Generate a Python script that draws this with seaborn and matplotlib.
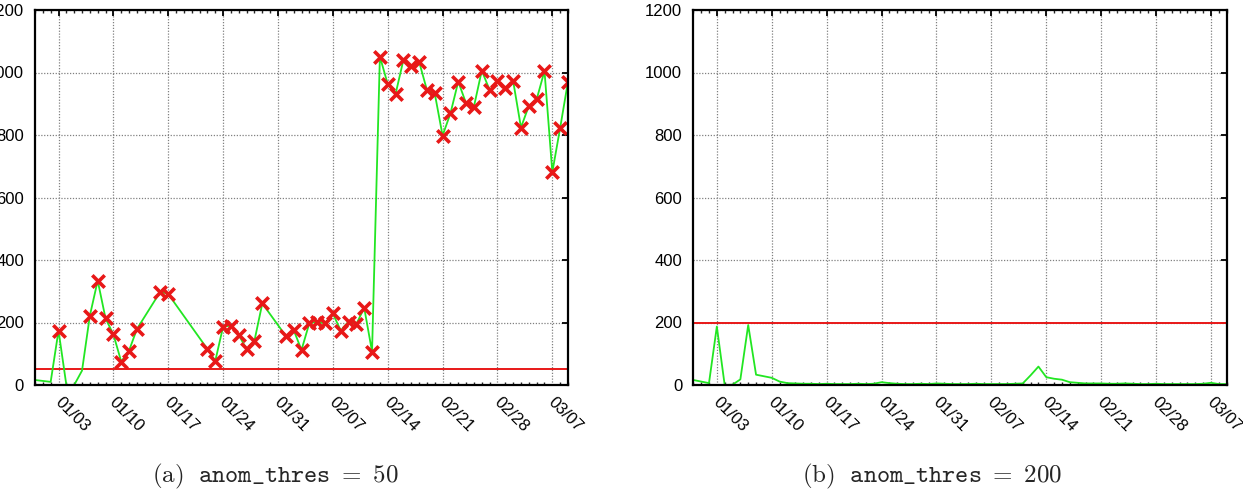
import matplotlib
matplotlib.use("Agg")
import matplotlib.pyplot as plt
import matplotlib.dates as mdates
from matplotlib.transforms import ScaledTranslation
import pandas as pd
import seaborn as sns

# ---------------- data ----------------
left_dates = [
    "2010-12-31", "2011-01-01", "2011-01-02", "2011-01-03", "2011-01-04", "2011-01-05",
    "2011-01-06", "2011-01-07", "2011-01-08", "2011-01-09", "2011-01-10", "2011-01-11",
    "2011-01-12", "2011-01-13", "2011-01-16", "2011-01-17", "2011-01-22", "2011-01-23",
    "2011-01-24", "2011-01-25", "2011-01-26", "2011-01-27", "2011-01-28", "2011-01-29",
    "2011-02-01", "2011-02-02", "2011-02-03", "2011-02-04", "2011-02-05", "2011-02-06",
    "2011-02-07", "2011-02-08", "2011-02-09", "2011-02-10", "2011-02-11", "2011-02-12",
    "2011-02-13", "2011-02-14", "2011-02-15", "2011-02-16", "2011-02-17", "2011-02-18",
    "2011-02-19", "2011-02-20", "2011-02-21", "2011-02-22", "2011-02-23", "2011-02-24",
    "2011-02-25", "2011-02-26", "2011-02-27", "2011-02-28", "2011-03-01", "2011-03-02",
    "2011-03-03", "2011-03-04", "2011-03-05", "2011-03-06", "2011-03-07", "2011-03-08",
    "2011-03-09",
]
left_values = [
    16, 13, 10, 174, 0, 0,
    46, 222, 334, 213, 162, 75,
    110, 179, 299, 291, 115, 77,
    187, 190, 160, 114, 142, 261,
    157, 176, 112, 198, 202, 197,
    229, 174, 203, 195, 247, 107,
    1051, 963, 931, 1040, 1022, 1035,
    944, 933, 798, 869, 971, 901,
    891, 1006, 944, 973, 949, 973,
    824, 893, 914, 1005, 681, 823,
    971,
]
left_threshold = 50

right_start = "2010-12-31"
right_values = [
    16, 11, 6, 187, 0, 1, 18, 192, 33, 28, 23, 11, 6, 5, 4, 4, 3, 4, 3, 3,
    3, 4, 3, 4, 9, 6, 4, 3, 3, 4, 3, 5, 4, 3, 3, 3, 4, 3, 3, 3,
    3, 4, 5, 31, 59, 25, 20, 17, 9, 7, 5, 5, 5, 4, 4, 5, 4, 3, 3, 4,
    3, 3, 3, 3, 3, 4, 7, 3, 3,
]
right_threshold = 200

xtick_dates = ["2011-01-03", "2011-01-10", "2011-01-17", "2011-01-24", "2011-01-31",
               "2011-02-07", "2011-02-14", "2011-02-21", "2011-02-28", "2011-03-07"]
xtick_labels = ["01/03", "01/10", "01/17", "01/24", "01/31",
                "02/07", "02/14", "02/21", "02/28", "03/07"]
yticks = [0, 200, 400, 600, 800, 1000, 1200]
captions = [r"$\mathrm{(a)}\ \ \mathtt{anom\_thres}\ =\ 50$",
            r"$\mathrm{(b)}\ \ \mathtt{anom\_thres}\ =\ 200$"]

# ---------------- style ----------------
sns.set_style("white")
plt.rcParams["font.family"] = ["Liberation Sans", "DejaVu Sans"]
plt.rcParams["mathtext.fontset"] = "cm"

GREEN = "#22e622"
RED = "#e81818"
TICKFS = 12

fig = plt.figure(figsize=(12.43, 4.97), dpi=100)
ax_l = fig.add_axes([35 / 1243, 1 - 385 / 497, 533 / 1243, 375 / 497])
ax_r = fig.add_axes([693.3 / 1243, 1 - 385 / 497, 533.4 / 1243, 375 / 497])

left_df = pd.DataFrame({"date": pd.to_datetime(left_dates), "value": left_values})
right_df = pd.DataFrame({
    "date": pd.date_range(right_start, periods=len(right_values), freq="D"),
    "value": right_values,
})


def style_axes(ax, thr):
    ax.axhline(thr, color=RED, lw=1.4, zorder=1.5)
    ax.set_xlim(pd.Timestamp("2010-12-31"), pd.Timestamp("2011-03-09"))
    ax.set_ylim(0, 1200)
    ax.set_xticks(pd.to_datetime(xtick_dates))
    ax.set_xticklabels(xtick_labels, fontsize=TICKFS)
    ax.xaxis.set_minor_locator(mdates.DayLocator())
    ax.set_yticks(yticks)
    ax.set_yticklabels([str(v) for v in yticks], fontsize=TICKFS)
    ax.yaxis.set_minor_locator(matplotlib.ticker.NullLocator())
    ax.grid(True, which="major", color="#808080", linestyle=(0, (1, 1.3)), lw=0.9)
    ax.set_axisbelow(True)
    for s in ax.spines.values():
        s.set_visible(True)
        s.set_color("black")
        s.set_linewidth(1.6)
        s.set_zorder(5)
    ax.tick_params(axis="both", which="major", direction="in", length=4, width=1.3,
                   top=True, right=True, labelsize=TICKFS, colors="black")
    ax.tick_params(axis="x", which="minor", direction="in", length=2.2, width=1.0,
                   top=True, bottom=True)
    ax.tick_params(axis="x", which="major", pad=11)
    ax.tick_params(axis="y", which="major", pad=8)
    offset = ScaledTranslation(-1 / 72, 0, fig.dpi_scale_trans)
    for lab in ax.get_xticklabels():
        lab.set_fontsize(TICKFS)
        lab.set_rotation(-45)
        lab.set_rotation_mode("anchor")
        lab.set_ha("left")
        lab.set_va("center")
        lab.set_transform(lab.get_transform() + offset)
    for lab in ax.get_yticklabels():
        lab.set_fontsize(TICKFS)
    ax.set_xlabel("")
    ax.set_ylabel("")


# left panel
sns.lineplot(data=left_df, x="date", y="value", ax=ax_l, color=GREEN, lw=1.3, zorder=2)
above = left_df[left_df["value"] > left_threshold]
sns.scatterplot(data=above, x="date", y="value", ax=ax_l, marker="x", s=80,
                color=RED, linewidth=2.6, zorder=3)
style_axes(ax_l, left_threshold)

# right panel
sns.lineplot(data=right_df, x="date", y="value", ax=ax_r, color=GREEN, lw=1.3, zorder=2)
above_r = right_df[right_df["value"] > right_threshold]
if len(above_r):
    sns.scatterplot(data=above_r, x="date", y="value", ax=ax_r, marker="x", s=80,
                    color=RED, linewidth=2.6, zorder=3)
style_axes(ax_r, right_threshold)

fig.text(275 / 1243, 1 - 476 / 497, captions[0], ha="center", va="center", fontsize=18)
fig.text(932 / 1243, 1 - 476 / 497, captions[1], ha="center", va="center", fontsize=18)

fig.savefig("out.png", dpi=100)
